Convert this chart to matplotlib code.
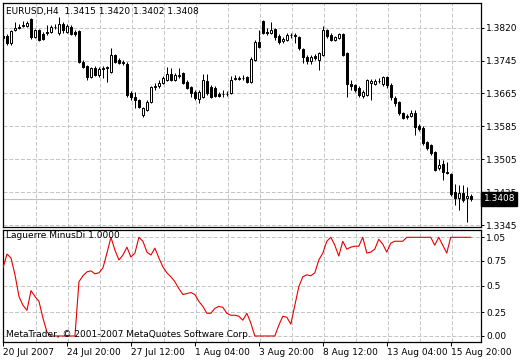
import matplotlib
matplotlib.use('Agg')
import matplotlib.pyplot as plt
import matplotlib.transforms as mtransforms
import numpy as np

plt.rcParams['font.family'] = ['DejaVu Sans']
plt.rcParams['font.size'] = 6.5

# EURUSD H4 candles, 20 Jul - 16 Aug 2007
opens = [1.3800, 1.3800, 1.3784, 1.3815, 1.3820, 1.3825, 1.3825, 1.3841, 1.3798, 1.3815,
         1.3805, 1.3810, 1.3810, 1.3822, 1.3808, 1.3829, 1.3810, 1.3822, 1.3810, 1.3813,
         1.3738, 1.3728, 1.3702, 1.3723, 1.3707, 1.3721, 1.3723, 1.3714, 1.3755, 1.3743,
         1.3738, 1.3733, 1.3663, 1.3654, 1.3646, 1.3610, 1.3622, 1.3641, 1.3678, 1.3680,
         1.3687, 1.3694, 1.3709, 1.3694, 1.3704, 1.3711, 1.3690, 1.3678, 1.3666, 1.3649,
         1.3654, 1.3692, 1.3678, 1.3675, 1.3661, 1.3661, 1.3661, 1.3663, 1.3697, 1.3697,
         1.3699, 1.3702, 1.3690, 1.3743, 1.3786, 1.3837, 1.3810, 1.3808, 1.3817, 1.3800,
         1.3788, 1.3791, 1.3803, 1.3803, 1.3798, 1.3769, 1.3750, 1.3740, 1.3752, 1.3743,
         1.3755, 1.3815, 1.3803, 1.3791, 1.3796, 1.3805, 1.3760, 1.3685, 1.3682, 1.3675,
         1.3656, 1.3658, 1.3687, 1.3685, 1.3692, 1.3685, 1.3702, 1.3682, 1.3651, 1.3641,
         1.3615, 1.3605, 1.3608, 1.3615, 1.3584, 1.3579, 1.3545, 1.3538, 1.3521, 1.3482,
         1.3492, 1.3473, 1.3468, 1.3425, 1.3410, 1.3422, 1.3410, 1.3415]
highs = [1.3805, 1.3805, 1.3815, 1.3834, 1.3829, 1.3837, 1.3837, 1.3844, 1.3817, 1.3817,
         1.3810, 1.3827, 1.3827, 1.3829, 1.3846, 1.3834, 1.3829, 1.3827, 1.3815, 1.3815,
         1.3743, 1.3731, 1.3726, 1.3728, 1.3726, 1.3728, 1.3728, 1.3772, 1.3757, 1.3747,
         1.3743, 1.3738, 1.3668, 1.3666, 1.3649, 1.3629, 1.3646, 1.3680, 1.3687, 1.3694,
         1.3704, 1.3726, 1.3723, 1.3711, 1.3723, 1.3714, 1.3694, 1.3680, 1.3670, 1.3670,
         1.3709, 1.3709, 1.3682, 1.3680, 1.3666, 1.3670, 1.3668, 1.3704, 1.3707, 1.3704,
         1.3707, 1.3704, 1.3750, 1.3791, 1.3815, 1.3839, 1.3820, 1.3834, 1.3820, 1.3805,
         1.3798, 1.3808, 1.3808, 1.3808, 1.3800, 1.3772, 1.3755, 1.3755, 1.3757, 1.3762,
         1.3825, 1.3817, 1.3808, 1.3800, 1.3808, 1.3808, 1.3762, 1.3694, 1.3685, 1.3680,
         1.3670, 1.3697, 1.3697, 1.3697, 1.3699, 1.3704, 1.3704, 1.3687, 1.3656, 1.3644,
         1.3617, 1.3613, 1.3622, 1.3622, 1.3588, 1.3584, 1.3547, 1.3540, 1.3523, 1.3504,
         1.3502, 1.3497, 1.3470, 1.3444, 1.3441, 1.3441, 1.3437, 1.3420]
lows = [1.3791, 1.3779, 1.3779, 1.3813, 1.3817, 1.3822, 1.3822, 1.3793, 1.3796, 1.3788,
        1.3791, 1.3803, 1.3808, 1.3817, 1.3803, 1.3808, 1.3808, 1.3803, 1.3800, 1.3735,
        1.3723, 1.3694, 1.3699, 1.3704, 1.3702, 1.3699, 1.3690, 1.3711, 1.3735, 1.3733,
        1.3731, 1.3654, 1.3646, 1.3627, 1.3627, 1.3605, 1.3620, 1.3639, 1.3670, 1.3675,
        1.3685, 1.3692, 1.3692, 1.3692, 1.3699, 1.3685, 1.3673, 1.3654, 1.3646, 1.3639,
        1.3651, 1.3658, 1.3651, 1.3654, 1.3654, 1.3654, 1.3656, 1.3661, 1.3694, 1.3694,
        1.3694, 1.3687, 1.3687, 1.3740, 1.3772, 1.3805, 1.3803, 1.3805, 1.3791, 1.3781,
        1.3784, 1.3788, 1.3796, 1.3784, 1.3767, 1.3735, 1.3733, 1.3733, 1.3743, 1.3719,
        1.3752, 1.3796, 1.3788, 1.3788, 1.3793, 1.3752, 1.3654, 1.3670, 1.3666, 1.3654,
        1.3651, 1.3656, 1.3646, 1.3682, 1.3687, 1.3680, 1.3675, 1.3646, 1.3632, 1.3610,
        1.3600, 1.3600, 1.3605, 1.3562, 1.3572, 1.3538, 1.3526, 1.3514, 1.3475, 1.3478,
        1.3453, 1.3468, 1.3415, 1.3393, 1.3381, 1.3400, 1.3352, 1.3402]
closes = [1.3796, 1.3784, 1.3813, 1.3820, 1.3822, 1.3827, 1.3832, 1.3798, 1.3815, 1.3791,
          1.3793, 1.3808, 1.3822, 1.3822, 1.3829, 1.3815, 1.3825, 1.3805, 1.3805, 1.3738,
          1.3726, 1.3702, 1.3723, 1.3707, 1.3721, 1.3723, 1.3726, 1.3755, 1.3738, 1.3735,
          1.3735, 1.3658, 1.3654, 1.3646, 1.3629, 1.3627, 1.3641, 1.3678, 1.3680, 1.3687,
          1.3699, 1.3709, 1.3694, 1.3707, 1.3707, 1.3687, 1.3675, 1.3663, 1.3651, 1.3666,
          1.3694, 1.3663, 1.3654, 1.3656, 1.3656, 1.3661, 1.3661, 1.3694, 1.3699, 1.3699,
          1.3699, 1.3690, 1.3745, 1.3786, 1.3774, 1.3808, 1.3808, 1.3815, 1.3798, 1.3786,
          1.3793, 1.3803, 1.3803, 1.3800, 1.3772, 1.3750, 1.3740, 1.3750, 1.3747, 1.3760,
          1.3815, 1.3800, 1.3791, 1.3798, 1.3805, 1.3755, 1.3685, 1.3680, 1.3670, 1.3658,
          1.3666, 1.3694, 1.3692, 1.3692, 1.3692, 1.3702, 1.3682, 1.3654, 1.3639, 1.3615,
          1.3603, 1.3608, 1.3615, 1.3581, 1.3576, 1.3543, 1.3531, 1.3519, 1.3478, 1.3490,
          1.3473, 1.3470, 1.3420, 1.3410, 1.3422, 1.3405, 1.3415, 1.3408]

# Laguerre MinusDi indicator
laguerre = [0.69, 0.83, 0.79, 0.62, 0.40, 0.31, 0.26, 0.46, 0.40, 0.35,
            0.18, 0.04, 0, 0, 0, 0, 0, 0, 0, 0.55,
            0.61, 0.65, 0.66, 0.63, 0.64, 0.69, 0.84, 1.0, 0.87, 0.77,
            0.82, 0.90, 0.80, 0.84, 1.0, 0.96, 0.85, 0.82, 0.89, 0.79,
            0.70, 0.64, 0.60, 0.55, 0.48, 0.42, 0.43, 0.44, 0.42, 0.35,
            0.30, 0.23, 0.23, 0.28, 0.30, 0.29, 0.23, 0.21, 0.21, 0.20,
            0.16, 0.23, 0.13, 0, 0, 0, 0, 0, 0, 0.11,
            0.20, 0.19, 0.12, 0.31, 0.50, 0.60, 0.62, 0.61, 0.64, 0.77,
            0.84, 0.96, 1.0, 0.92, 0.81, 0.96, 0.88, 0.90, 0.91, 0.91,
            1.0, 0.84, 0.85, 0.88, 0.98, 0.93, 0.85, 0.94, 0.96, 0.96,
            0.96, 1.0, 1.0, 1.0, 1.0, 1.0, 1.0, 1.0, 0.92, 1.0,
            0.92, 0.84, 1.0, 1.0, 1.0, 1.0, 1.0, 1.0]

date_bars = [0, 16, 32, 48, 64, 80, 96, 112]
date_labels = ['20 Jul 2007', '24 Jul 20:00', '27 Jul 12:00', '1 Aug 04:00',
               '3 Aug 20:00', '8 Aug 12:00', '13 Aug 04:00', '15 Aug 20:00']
price_ticks = [1.3820, 1.3741, 1.3662, 1.3583, 1.3503, 1.3424, 1.3345]
price_labels = ['1.3820', '1.3745', '1.3665', '1.3585', '1.3505', '1.3425', '1.3345']
ind_ticks = [1.0, 0.76, 0.51, 0.24, 0.0]
ind_labels = ['1.05', '0.75', '0.5', '0.25', '0.00']

o = np.array(opens)
h = np.array(highs)
l = np.array(lows)
c = np.array(closes)
x = np.arange(len(c))
up = c >= o

W, H = 520, 360
fig = plt.figure(figsize=(W / 100, H / 100), dpi=100)
fig.patch.set_facecolor('white')
ax = fig.add_axes([3 / W, 1 - 227 / H, 477.7 / W, 224 / H])
ax2 = fig.add_axes([3 / W, 1 - 342 / H, 477.7 / W, 112 / H])

grid_kw = dict(color='#c4c4c4', lw=0.7, ls=(0, (4, 2)), zorder=0)
for a in (ax, ax2):
    for k in range(1, 15):
        a.axvline(8 * k + 0.25, **grid_kw)
    a.set_xlim(0.075, 119.5)
    for s in a.spines.values():
        s.set_linewidth(0.9)
        s.set_color('black')

# main chart
for p in price_ticks:
    ax.axhline(p, **grid_kw)
ax.axhline(closes[-1], color='#c0c0c0', lw=0.8, zorder=1)
ax.vlines(x, l, h, color='black', lw=0.72, zorder=2)
ax.bar(x[up], c[up] - o[up], bottom=o[up], width=0.5, facecolor='white',
       edgecolor='black', lw=0.72, zorder=3)
ax.bar(x[~up], o[~up] - c[~up], bottom=c[~up], width=0.5, facecolor='black',
       edgecolor='black', lw=0.72, zorder=3)
ax.set_ylim(1.33402, 1.3880)
ax.set_yticks(price_ticks)
ax.set_yticklabels(price_labels)
ax.tick_params(axis='y', left=False, labelleft=False, right=True, labelright=True,
               length=2.5, width=0.7, pad=1.5, labelsize=6.5)
ax.tick_params(axis='x', bottom=False, labelbottom=False)

trans = mtransforms.blended_transform_factory(ax.transAxes, ax.transData)
ax.text(1.006, closes[-1], '%.4f' % closes[-1], transform=trans, color='white',
        fontsize=6.5, va='center', ha='left', zorder=10, clip_on=False,
        bbox=dict(boxstyle='square,pad=0.25', facecolor='black', edgecolor='black'))

fig.text(6 / W, 1 - 11.5 / H,
         'EURUSD,H4  %.4f %.4f %.4f %.4f' % (opens[-1], highs[-1], lows[-1], closes[-1]),
         va='center', ha='left', fontsize=6.5)

# indicator window
for v in ind_ticks:
    ax2.axhline(v, **grid_kw)
ax2.plot(x, laguerre, color='#e80000', lw=0.8, zorder=3)
ax2.set_ylim(-0.061, 1.074)
ax2.set_yticks(ind_ticks)
ax2.set_yticklabels(ind_labels)
ax2.tick_params(axis='y', left=False, labelleft=False, right=True, labelright=True,
                length=2.5, width=0.7, pad=1.5, labelsize=6.5)
ax2.set_xticks(date_bars)
ax2.set_xticklabels(date_labels, ha='left')
ax2.tick_params(axis='x', length=3, width=0.7, pad=1.5, labelsize=6.5)

fig.text(6 / W, 1 - 236 / H, 'Laguerre MinusDi 1.0000', va='center', ha='left', fontsize=6.5)
fig.text(6 / W, 1 - 334.5 / H, 'MetaTrader, \u00a9 2001-2007 MetaQuotes Software Corp.',
         va='center', ha='left', fontsize=6.5)

fig.savefig('out.png', dpi=100, facecolor='white')
